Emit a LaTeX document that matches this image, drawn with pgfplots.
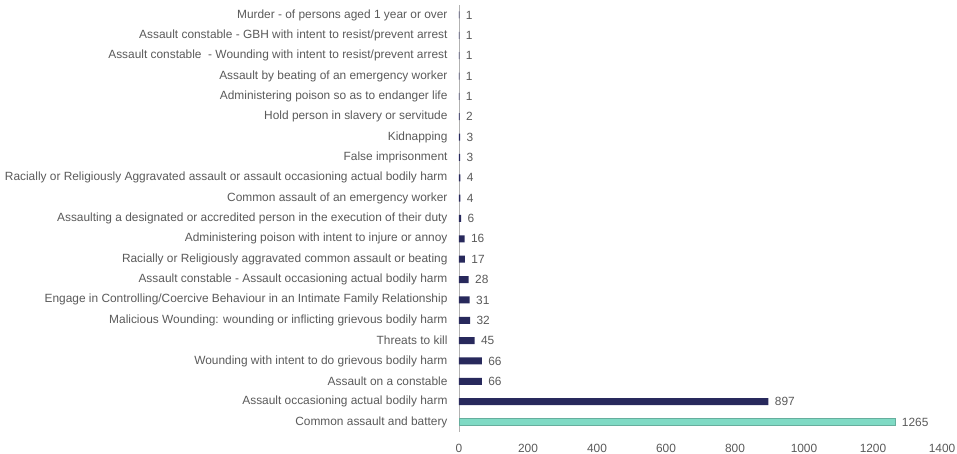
\documentclass[border=0pt]{standalone}
\usepackage{pgfplots}
\pgfplotsset{compat=1.18}
\usepackage{fontspec}
\setmainfont{Liberation Sans}
\definecolor{navy}{HTML}{28295C}
\definecolor{teal}{HTML}{7FDAC4}
\definecolor{txt}{HTML}{5A5A5A}
\begin{document}
\begin{tikzpicture}[x=1pt,y=1pt]
\begin{axis}[
  name=ax,
  at={(0,0)}, anchor=south west,
  scale only axis,
  width=483pt, height=427pt,
  xmin=0, xmax=1400,
  ymin=-0.49, ymax=20.49,
  xtick={0,200,...,1400},
  ytick={0,...,20},
  yticklabels={Common assault and battery,
    Assault occasioning actual bodily harm,
    Assault on a constable,
    Wounding with intent to do grievous bodily harm,
    Threats to kill,
    Malicious Wounding: wounding or inflicting grievous bodily harm,
    Engage in Controlling/Coercive Behaviour in an Intimate Family Relationship,
    Assault constable - Assault occasioning actual bodily harm,
    Racially or Religiously aggravated common assault or beating,
    Administering poison with intent to injure or annoy,
    Assaulting a designated or accredited person in the execution of their duty,
    Common assault of an emergency worker,
    Racially or Religiously Aggravated assault or assault occasioning actual bodily harm,
    False imprisonment,
    Kidnapping,
    Hold person in slavery or servitude,
    Administering poison so as to endanger life,
    Assault by beating of an emergency worker,
    Assault constable\ \ - Wounding with intent to resist/prevent arrest,
    Assault constable - GBH with intent to resist/prevent arrest,
    Murder - of persons aged 1 year or over},
  axis x line*=bottom,
  axis y line*=left,
  x axis line style={draw=none},
  y axis line style={-, draw=black!30, line width=0.8pt},
  major tick length=0pt,
  tick style={draw=none},
  /pgf/number format/assume math mode=true,
  /pgf/number format/1000 sep={},
  ticklabel style={font=\fontsize{11.9}{13}\selectfont, text=txt},
  yticklabel style={xshift=-8pt},
  xticklabel style={yshift=-9pt},
  xbar, bar width=7pt, bar shift=0pt,
  nodes near coords,
  every node near coord/.append style={font=\fontsize{11.9}{13}\selectfont, text=txt, anchor=west, xshift=3pt},
  clip=false,
]
\addplot[fill=teal, draw=teal!80!black, line width=0.3pt] coordinates {(1265,0)};
\addplot[fill=navy, draw=none] coordinates {
(897,1) (66,2) (66,3) (45,4) (32,5) (31,6) (28,7) (17,8) (16,9) (6,10)
(4,11) (4,12) (3,13) (3,14) (2,15) (1,16) (1,17) (1,18) (1,19) (1,20)};
\end{axis}
\pgfresetboundingbox
\path[use as bounding box] (-459pt,-22pt) rectangle (498pt,432pt);
\end{tikzpicture}
\end{document}
